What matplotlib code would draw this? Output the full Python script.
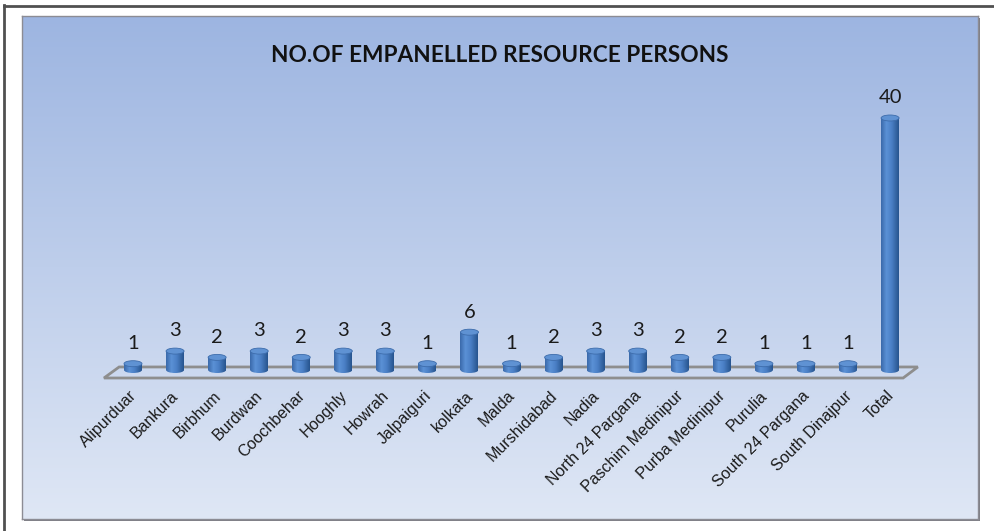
import matplotlib
matplotlib.use("Agg")
import matplotlib.pyplot as plt
import numpy as np
from matplotlib.colors import LinearSegmentedColormap, to_rgb
from matplotlib.patches import Rectangle, Ellipse, Polygon
from matplotlib.lines import Line2D

# Data
districts = ["Alipurduar", "Bankura", "Birbhum", "Burdwan", "Coochbehar", "Hooghly",
             "Howrah", "Jalpaiguri", "kolkata", "Malda", "Murshidabad", "Nadia",
             "North 24 Pargana", "Paschim Medinipur", "Purba Medinipur", "Purulia",
             "South 24 Pargana", "South Dinajpur", "Total"]
persons = [1, 3, 2, 3, 2, 3, 3, 1, 6, 1, 2, 3, 3, 2, 2, 1, 1, 1, 40]
title = "NO.OF EMPANELLED RESOURCE PERSONS"

W, H = 994, 531
fig = plt.figure(figsize=(W / 100, H / 100), dpi=100)
fig.patch.set_facecolor("white")

# outer frame (left and top only visible)
fig.add_artist(Line2D([4 / W, 4 / W], [0, 1 - 5 / H], color="#505050", lw=2))
fig.add_artist(Line2D([4 / W, 993 / W], [1 - 6 / H, 1 - 6 / H], color="#505050", lw=2))

# chart panel with gradient
pl, pt, pr, pb = 22, 16, 978, 519
shadow = Rectangle(((pl + 2) / W, 1 - (pb + 2) / H), (pr - pl) / W, (pb - pt) / H,
                   transform=fig.transFigure, facecolor="#7f7f86", edgecolor="none",
                   zorder=-5)
fig.add_artist(shadow)
bg = fig.add_axes([pl / W, 1 - pb / H, (pr - pl) / W, (pb - pt) / H])
bg.set_zorder(-1)
top_c = np.array(to_rgb("#9db5e1"))
bot_c = np.array(to_rgb("#dfe7f5"))
t = np.linspace(0, 1, 256)[:, None]
grad = top_c * (1 - t) + bot_c * t
bg.imshow(grad[:, None, :], aspect="auto", extent=[0, 1, 0, 1])
bg.set_xlim(0, 1)
bg.set_ylim(0, 1)
bg.set_xticks([])
bg.set_yticks([])
for s in bg.spines.values():
    s.set_color("#8c8c94")
    s.set_linewidth(1)

# main axes mapped to pixel layout
ax = fig.add_axes([0, 0, 1, 1])
ax.patch.set_alpha(0)
ax.axis("off")
x0px, dxpx = 133, 42.06
y0px, dypx = 370, 6.3
xlim = (-x0px / dxpx, (W - x0px) / dxpx)
ylim = (-(H - y0px) / dypx, y0px / dypx)

# floor
floor = Polygon([(-0.69, -1.27), (-0.33, 0.48), (18.66, 0.48), (18.31, -1.27)],
                closed=True, facecolor="none", edgecolor="#8e8e8e", lw=2, zorder=1)
ax.add_patch(floor)

cyl = LinearSegmentedColormap.from_list(
    "cyl", [(0, "#3a69aa"), (0.3, "#5b91d6"), (0.6, "#4a7fc5"), (1, "#27548e")])
hg = np.linspace(0, 1, 64)[None, :]
bw = 9 / dxpx
eh = 6 / dypx

for i, v in enumerate(persons):
    body = Rectangle((i - bw, 0), 2 * bw, v, facecolor="none", edgecolor="none")
    ax.add_patch(body)
    im = ax.imshow(hg, cmap=cyl, aspect="auto", extent=[i - bw, i + bw, -eh, v],
                   zorder=2, interpolation="bilinear")
    im.set_clip_path(body)
    bot = Ellipse((i, 0), 2 * bw, eh, facecolor="none", edgecolor="none")
    ax.add_patch(bot)
    im2 = ax.imshow(hg, cmap=cyl, aspect="auto", extent=[i - bw, i + bw, -eh, v],
                    zorder=2, interpolation="bilinear")
    im2.set_clip_path(bot)
    ax.add_patch(Ellipse((i, v), 2 * bw, eh, facecolor="#5f92d3",
                         edgecolor="#3d6cab", lw=0.6, zorder=3))
    ax.annotate(str(v), (i, v), xytext=(0, 14.5), textcoords="offset points",
                ha="center", va="center", fontsize=14.5, family="Lato", color="#1a1a1a")
    ax.annotate(districts[i], (i, 0), xytext=(-3, -13), textcoords="offset points",
                ha="right", va="top", rotation=45, rotation_mode="anchor",
                fontsize=11.5, family="Liberation Sans", color="#1a1a1a")

ax.set_xlim(*xlim)
ax.set_ylim(*ylim)

fig.text(500 / W, 1 - 55 / H, title, ha="center", va="center",
         fontsize=16.3, fontweight="bold", family="Lato", color="#111111")

fig.savefig("out.png", dpi=100)
